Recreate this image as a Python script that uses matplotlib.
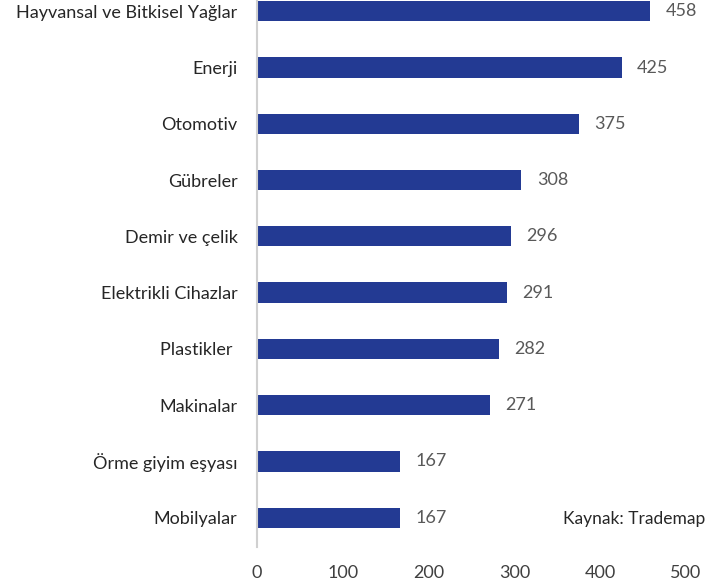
import matplotlib
matplotlib.use("Agg")
import matplotlib.pyplot as plt

# categories top -> bottom
categories = ["Hayvansal ve Bitkisel Yağlar", "Enerji", "Otomotiv", "Gübreler",
              "Demir ve çelik", "Elektrikli Cihazlar", "Plastikler ", "Makinalar",
              "Örme giyim eşyası", "Mobilyalar"]
values = [458, 425, 375, 308, 296, 291, 282, 271, 167, 167]
xticks = [0, 100, 200, 300, 400, 500]

BAR_COLOR = "#233A93"
plt.rcParams["font.family"] = ["Lato", "DejaVu Sans"]

fig = plt.figure(figsize=(7.23, 5.84), dpi=100)
ax = fig.add_axes([0.3555, 0.0634, 0.5933, 0.9366])

n = len(categories)
ypos = list(range(n - 1, -1, -1))
ax.barh(ypos, values, height=0.36, color=BAR_COLOR)
for y, v in zip(ypos, values):
    ax.text(v + 18, y, f"{v}", va="center", ha="left", fontsize=13, color="#595959")

ax.set_xlim(0, 500)
ax.set_ylim(-0.52, 9.2)
ax.set_yticks(ypos)
ax.set_yticklabels(categories, fontsize=13, color="#262626")
ax.set_xticks(xticks)
ax.set_xticklabels([str(t) for t in xticks], fontsize=13, color="#404040")
ax.tick_params(axis="both", length=0)
ax.tick_params(axis="y", pad=14)
ax.tick_params(axis="x", pad=13)

for s in ["top", "right", "bottom"]:
    ax.spines[s].set_visible(False)
ax.spines["left"].set_color("#d0d0d0")
ax.spines["left"].set_linewidth(1.5)

# source note, bottom right
fig.text(0.975, 0.111, "Kaynak: Trademap", ha="right", va="center",
         fontsize=12.5, color="#262626")

fig.savefig("out.png", dpi=100)
